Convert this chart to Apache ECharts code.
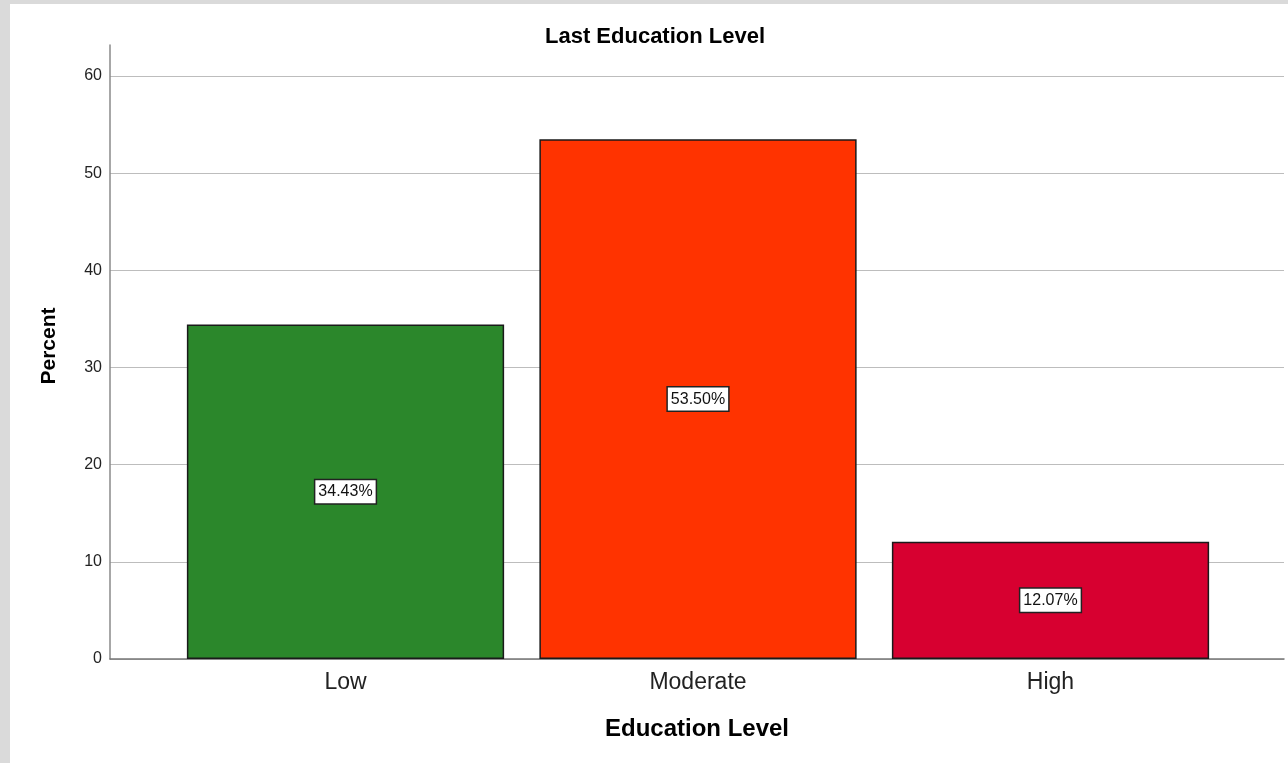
<!DOCTYPE html>
<html>
<head>
<meta charset="utf-8">
<script src="https://cdn.jsdelivr.net/npm/echarts@6/dist/echarts.min.js"></script>
<style>
html,body{margin:0;padding:0;background:#fff;}
#chart{position:absolute;left:0;top:0;width:1288px;height:763px;}
.strip{position:absolute;background:#dadada;}
</style>
</head>
<body>
<div id="chart"></div>
<div class="strip" style="left:0;top:0;width:10px;height:763px;"></div>
<div class="strip" style="left:0;top:0;width:1288px;height:4px;"></div>
<script>
const titleText = 'Last Education Level';
const categories = ['Low', 'Moderate', 'High'];
const percentValues = [34.43, 53.50, 12.07];
const barColors = ['#2b872b', '#ff3300', '#d70030'];
const yTicks = [0, 10, 20, 30, 40, 50, 60];
const yName = 'Percent';
const xName = 'Education Level';

const FONT = '"Liberation Sans", Arial, sans-serif';
const yMax = 63.2;

const chart = echarts.init(document.getElementById('chart'), null, {renderer: 'canvas'});
chart.setOption({
  animation: false,
  backgroundColor: '#ffffff',
  title: {
    text: titleText,
    left: 540,
    top: 21,
    textStyle: {fontFamily: FONT, fontSize: 22, fontWeight: 'bold', color: '#000'}
  },
  grid: [
    {left: 110, right: 4, top: 45, bottom: 104},
    {left: 169.25, right: 61.25, top: 45, bottom: 104}
  ],
  xAxis: [
    {
      gridIndex: 0, type: 'value', min: 0, max: 1,
      axisLine: {show: true, lineStyle: {color: '#777', width: 1.5}},
      axisTick: {show: false}, axisLabel: {show: false}, splitLine: {show: false},
      name: xName, nameLocation: 'middle', nameGap: 58,
      nameTextStyle: {fontFamily: FONT, fontSize: 24, fontWeight: 'bold', color: '#000'}
    },
    {
      gridIndex: 1, type: 'category', data: categories,
      axisLine: {show: false}, axisTick: {show: false},
      axisLabel: {margin: 12, fontFamily: FONT, fontSize: 23, color: '#222'}
    }
  ],
  yAxis: [
    {
      gridIndex: 0, type: 'value', min: 0, max: yMax, interval: 10,
      axisLine: {show: true, lineStyle: {color: '#8a8a8a', width: 1.5}},
      axisTick: {show: false},
      axisLabel: {margin: 8, fontFamily: FONT, fontSize: 16, color: '#222',
        padding: [6, 0, 0, 0], customValues: yTicks},
      splitLine: {show: true, showMaxLine: false, lineStyle: {color: '#bdbdbd', width: 1.2}},
      name: yName, nameLocation: 'middle', nameRotate: 90, nameGap: 50,
      nameTextStyle: {fontFamily: FONT, fontSize: 21, fontWeight: 'bold', color: '#000',
        padding: [0, 0, 0, 12]}
    },
    {
      gridIndex: 1, type: 'value', min: 0, max: yMax, show: false,
      splitLine: {show: false}
    }
  ],
  series: [{
    type: 'bar',
    xAxisIndex: 1, yAxisIndex: 1,
    barWidth: '90%',
    z: 3,
    data: percentValues.map((v, i) => ({
      value: v,
      itemStyle: {color: barColors[i], borderColor: '#1a1a1a', borderWidth: 1.5}
    })),
    label: {
      show: true, position: 'inside',
      formatter: p => p.value.toFixed(2) + '%',
      fontFamily: FONT, fontSize: 16, color: '#111',
      backgroundColor: '#fff', borderColor: '#222', borderWidth: 1.5,
      padding: [4, 3, 3, 3]
    }
  }]
});
</script>
</body>
</html>
